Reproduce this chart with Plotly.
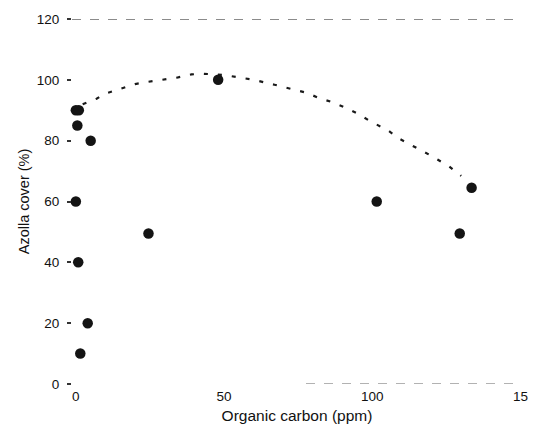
import plotly.graph_objects as go

# Observed data points
carbon_ppm = [0, 1, 0.5, 5, 0, 0.8, 4, 1.5, 24.5, 48, 101.5, 129.5, 133.5]
azolla_cover = [90, 90, 85, 80, 60, 40, 20, 10, 49.5, 100, 60, 49.5, 64.5]

# Fitted trend curve
curve_x = [2.3, 7, 10, 15, 20, 24, 29, 34, 39, 43, 50, 55, 60, 67, 74, 78, 82, 86, 91, 95, 100, 105, 109, 115, 119, 122, 126, 130]
curve_y = [92, 93.8, 95.5, 97, 98.6, 99.3, 100, 100.7, 101.8, 102, 101.6, 100.8, 100, 98.4, 96.8, 95.7, 94, 92.8, 90.8, 88.9, 86, 83.6, 80.7, 77.7, 75.5, 73.8, 71.5, 68.4]

x_tickvals = [0, 50, 100, 150]
x_ticktext = ["0", "50", "100", "15"]
y_tickvals = [0, 20, 40, 60, 80, 100, 120]

fig = go.Figure()
fig.add_trace(go.Scatter(
    x=curve_x, y=curve_y, mode="lines",
    line=dict(color="#1a1a1a", width=2.2, dash="4px,10px"),
    hoverinfo="skip", showlegend=False,
))
fig.add_trace(go.Scatter(
    x=carbon_ppm, y=azolla_cover, mode="markers",
    marker=dict(color="#141414", size=10.5),
    cliponaxis=False, showlegend=False,
))

# top and bottom frame lines (dashed, scanned look)
fig.add_shape(type="line", xref="paper", yref="y", x0=0, x1=0.985, y0=120, y1=120,
              line=dict(color="#666666", width=1.5, dash="dash"))
fig.add_shape(type="line", xref="paper", yref="y", x0=0.52, x1=0.985, y0=0, y1=0,
              line=dict(color="#999999", width=1.5, dash="dash"))

font_family = "Liberation Sans, Arial, sans-serif"
fig.update_layout(
    width=540, height=433,
    margin=dict(l=72, r=14, t=17, b=49),
    paper_bgcolor="white", plot_bgcolor="white",
    font=dict(family=font_family, size=13.5, color="#111111"),
    xaxis=dict(
        range=[-1.3, 150.5], tickvals=x_tickvals, ticktext=x_ticktext,
        showgrid=False, zeroline=False, showline=False, ticks="",
        ticklabelstandoff=2,
        title=dict(text="Organic carbon (ppm)", font=dict(size=15.5), standoff=7),
    ),
    yaxis=dict(
        range=[0, 120], tickvals=y_tickvals,
        showgrid=False, zeroline=False, showline=False,
        ticks="outside", ticklen=4, tickcolor="#333333", tickwidth=1.5,
        ticklabelstandoff=5,
        title=dict(text="Azolla cover (%)", font=dict(size=14.5), standoff=3),
    ),
)

fig.write_html("out.html")
